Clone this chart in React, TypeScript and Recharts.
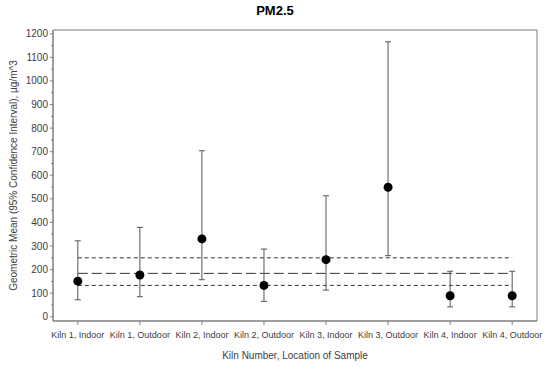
import {
  ErrorBar,
  ReferenceArea,
  ReferenceLine,
  Scatter,
  ScatterChart,
  XAxis,
  YAxis,
  Label,
} from 'recharts';

// Sample locations along the x axis
const categories = [
  'Kiln 1, Indoor',
  'Kiln 1, Outdoor',
  'Kiln 2, Indoor',
  'Kiln 2, Outdoor',
  'Kiln 3, Indoor',
  'Kiln 3, Outdoor',
  'Kiln 4, Indoor',
  'Kiln 4, Outdoor',
];

// Geometric means and 95% CI bounds, µg/m^3
const means = [151, 177, 330, 133, 242, 549, 89, 89];
const lowers = [72, 85, 157, 65, 113, 259, 42, 42];
const uppers = [322, 379, 704, 287, 513, 1166, 193, 193];

// Overall mean and its CI (horizontal dashed lines)
const overallMean = 184;
const overallLower = 133;
const overallUpper = 250;

const yTicks = Array.from({ length: 25 }, (_, i) => i * 50);
const xTicks = categories.map((_, i) => i + 1);

const X_DOMAIN: [number, number] = [0.6, 8.4];
const Y_DOMAIN: [number, number] = [-18, 1216];

const data = categories.map((name, i) => ({
  x: i + 1,
  name,
  mean: means[i],
  err: [means[i] - lowers[i], uppers[i] - means[i]],
}));

const TEXT = '#404040';
const FRAME = '#7f7f7f';
const FONT = 'Arial, "Liberation Sans", sans-serif';

function YTick({ x, y, payload }: any) {
  const major = payload.value % 100 === 0;
  return (
    <g>
      <line x1={x - (major ? 3 : 2)} y1={y} x2={x} y2={y} stroke={FRAME} />
      {major && (
        <text
          x={x - 5}
          y={y}
          dy={3.5}
          textAnchor="end"
          fontSize={10}
          fontFamily={FONT}
          fill={TEXT}
        >
          {payload.value}
        </text>
      )}
    </g>
  );
}

function XTick({ x, y, payload }: any) {
  return (
    <g>
      <line x1={x} y1={y} x2={x} y2={y + 4} stroke={FRAME} />
      <text
        x={x}
        y={y + 17}
        textAnchor="middle"
        fontSize={9}
        fontFamily={FONT}
        fill={TEXT}
      >
        {categories[payload.value - 1]}
      </text>
    </g>
  );
}

function Dot({ cx, cy }: any) {
  return <circle cx={cx} cy={cy} r={4.5} fill="#000" />;
}

export default function App() {
  return (
    <div
      style={{
        position: 'absolute',
        left: 0,
        top: 0,
        width: 550,
        height: 367,
        background: '#fff',
        fontFamily: FONT,
      }}
    >
      <div
        style={{
          position: 'absolute',
          left: 0,
          width: 550,
          top: 3,
          textAlign: 'center',
          fontWeight: 'bold',
          fontSize: 13,
          color: '#000',
        }}
      >
        PM2.5
      </div>
      <ScatterChart
        width={550}
        height={367}
        margin={{ top: 30, right: 13, bottom: 0, left: 0 }}
      >
        <XAxis
          type="number"
          dataKey="x"
          domain={X_DOMAIN}
          ticks={xTicks}
          interval={0}
          height={46}
          tickSize={0}
          tickMargin={0}
          tickLine={false}
          tick={<XTick />}
          stroke={FRAME}
          allowDataOverflow
        >
          <Label
            value="Kiln Number, Location of Sample"
            position="insideBottom"
            offset={8}
            fontSize={10}
            fontFamily={FONT}
            fill={TEXT}
          />
        </XAxis>
        <YAxis
          type="number"
          domain={Y_DOMAIN}
          ticks={yTicks}
          interval={0}
          width={53}
          tickSize={0}
          tickMargin={0}
          tickLine={false}
          tick={<YTick />}
          stroke={FRAME}
          allowDataOverflow
        >
          <Label
            value="Geometric Mean (95% Confidence Interval), µg/m^3"
            angle={-90}
            position="insideLeft"
            offset={13}
            style={{ textAnchor: 'middle' }}
            fontSize={10}
            fontFamily={FONT}
            fill={TEXT}
          />
        </YAxis>
        {/* plot frame */}
        <ReferenceArea
          x1={X_DOMAIN[0]}
          x2={X_DOMAIN[1]}
          y1={Y_DOMAIN[0]}
          y2={Y_DOMAIN[1]}
          fill="none"
          fillOpacity={0}
          stroke={FRAME}
          strokeWidth={1}
        />
        <ReferenceLine
          segment={[
            { x: 1, y: overallUpper },
            { x: 8, y: overallUpper },
          ]}
          stroke="#333"
          strokeDasharray="4 3"
        />
        <ReferenceLine
          segment={[
            { x: 1, y: overallMean },
            { x: 8, y: overallMean },
          ]}
          stroke="#333"
          strokeDasharray="10 4"
        />
        <ReferenceLine
          segment={[
            { x: 1, y: overallLower },
            { x: 8, y: overallLower },
          ]}
          stroke="#333"
          strokeDasharray="4 3"
        />
        <Scatter
          data={data}
          dataKey="mean"
          shape={<Dot />}
          isAnimationActive={false}
        >
          <ErrorBar
            dataKey="err"
            direction="y"
            width={3}
            stroke="#555"
            strokeWidth={1}
            isAnimationActive={false}
          />
        </Scatter>
      </ScatterChart>
    </div>
  );
}
